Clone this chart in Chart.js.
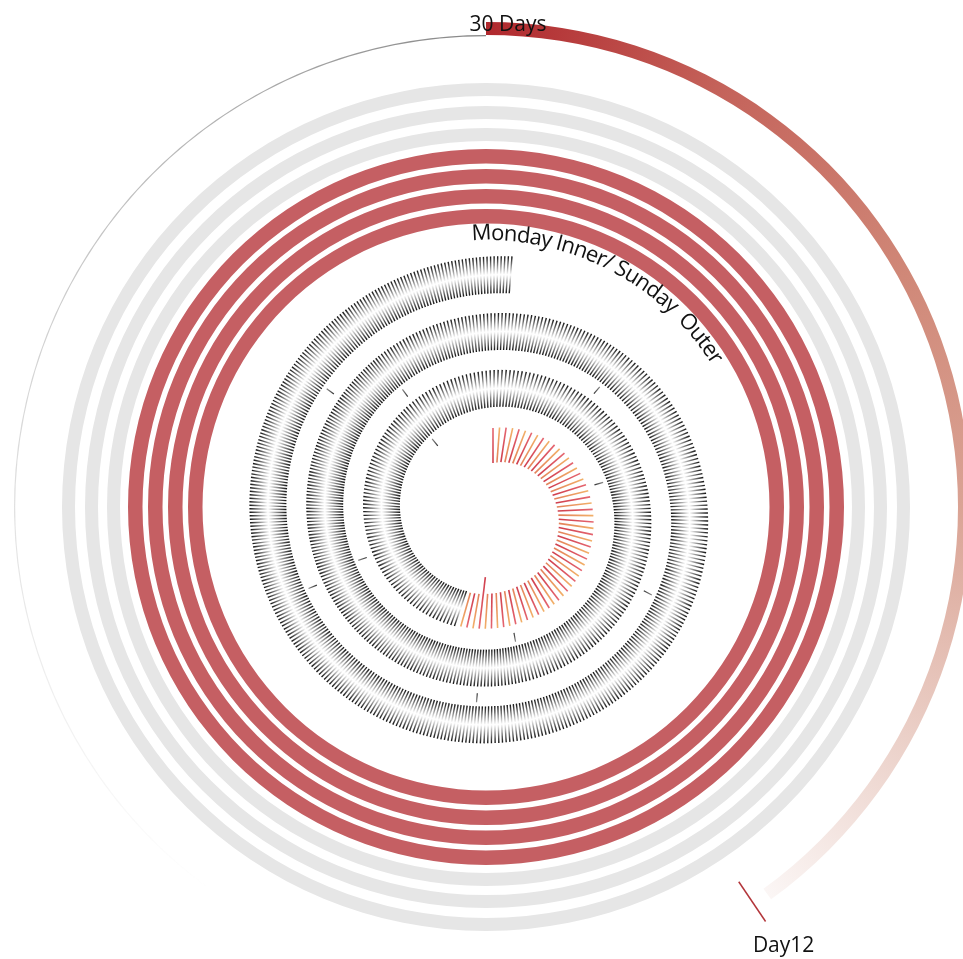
<!DOCTYPE html>
<html>
<head>
<meta charset="utf-8">
<script src="https://cdn.jsdelivr.net/npm/chart.js@4.4.0/dist/chart.umd.min.js"></script>
<style>
  html, body { margin: 0; padding: 0; background: #fff; }
  #wrap { position: relative; width: 963px; height: 959px; overflow: hidden; }
  #wrap canvas { position: absolute; left: 0; top: 0; }
</style>
</head>
<body>
<div id="wrap">
  <canvas id="rings" width="975" height="995"></canvas>
  <canvas id="spiral" width="975" height="995"></canvas>
</div>
<script>
// 30 day run, 12 days done
const daysTotal = 30;
const daysDone = 12;

// week rings, outer to inner: 0 = still to come, 1 = done
const weekRings = [0, 0, 0, 1, 1, 1, 1];

// spiral, innermost day first: where each day starts / ends (degrees along the spiral)
const dayBounds = [0, 199, 321, 434, 530, 611, 684, 760, 837, 905, 968, 1027, 1085];
// readings per day
const dayReadings = [56, 72, 72, 72, 72, 72, 72, 72, 72, 72, 72, 72];
// readings of the highlighted day
const todayValues = [
  35, 35, 35, 35, 35, 35, 35, 35, 35, 35,
  35, 35, 35, 35, 35, 35, 35, 35, 35, 35,
  35, 35, 35, 35, 35, 35, 35, 35, 35, 35,
  35, 35, 35, 35, 35, 35, 35, 35, 35, 35,
  35, 35, 35, 35, 35, 35, 35, 35, 35, 35,
  35, 35, 52, 35, 35, 35
];
// every reading on the other days has the same size
const otherDayValue = 37;

const FONT = '"Open Sans", "Noto Sans", sans-serif';
const rad = d => d * Math.PI / 180;

// ---------- rings chart ----------
const RING_W = 975, RING_H = 995;
const ringCx = 486, ringCy = 507, ringR = 485, ringCut = 283.5;

function progressFill(chart) {
  const a = chart.chartArea;
  if (!a) return '#b02a2e';
  const g = chart.ctx.createConicGradient(-Math.PI / 2, (a.left + a.right) / 2, (a.top + a.bottom) / 2);
  g.addColorStop(0, '#b0282d');
  g.addColorStop(0.08, '#c4625a');
  g.addColorStop(0.17, '#d08878');
  g.addColorStop(0.25, '#daa394');
  g.addColorStop(0.33, '#ebd0c8');
  g.addColorStop(0.4, '#fbf6f5');
  g.addColorStop(1, '#fbf6f5');
  return g;
}
function trackFill(chart) {
  const a = chart.chartArea;
  if (!a) return '#999';
  const g = chart.ctx.createConicGradient(-Math.PI / 2, (a.left + a.right) / 2, (a.top + a.bottom) / 2);
  g.addColorStop(0, 'rgba(120,120,120,0.9)');
  g.addColorStop(0.4, 'rgba(160,160,160,0)');
  g.addColorStop(0.6, 'rgba(160,160,160,0)');
  g.addColorStop(0.7, 'rgba(150,150,150,0.18)');
  g.addColorStop(0.8, 'rgba(140,140,140,0.38)');
  g.addColorStop(0.9, 'rgba(130,130,130,0.6)');
  g.addColorStop(1, 'rgba(120,120,120,0.9)');
  return g;
}

const clear = 'rgba(0,0,0,0)';
const ringBase = { borderWidth: 0, hoverBorderWidth: 0, hoverOffset: 0, offset: 0 };
const ringSets = [
  { ...ringBase, data: [daysDone, daysTotal - daysDone], weight: 13,
    backgroundColor: c => c.dataIndex === 0 ? progressFill(c.chart) : clear },
  { ...ringBase, data: [daysDone, daysTotal - daysDone], weight: 1.2,
    backgroundColor: c => c.dataIndex === 1 ? trackFill(c.chart) : clear }
];
const ringGaps = [46.8, 10, 9, 8, 5.5, 5.5, 5.5];
weekRings.forEach((done, i) => {
  ringSets.push({ ...ringBase, data: [1], weight: ringGaps[i], backgroundColor: clear });
  ringSets.push({ ...ringBase, data: [1], weight: done ? 14.5 : 13,
    backgroundColor: done ? '#c55f63' : '#e6e6e6' });
});

function curvedText(ctx, text, cx, cy, r, startDeg, spanDeg) {
  ctx.save();
  ctx.font = '22px ' + FONT;
  ctx.fillStyle = '#111';
  ctx.textBaseline = 'alphabetic';
  ctx.textAlign = 'left';
  const chars = [...text];
  const natural = chars.reduce((s, ch) => s + ctx.measureText(ch).width, 0);
  const extra = (rad(spanDeg) * r - natural) / (chars.length - 1);
  let ang = rad(startDeg);
  chars.forEach(ch => {
    ctx.save();
    ctx.translate(cx + r * Math.sin(ang), cy - r * Math.cos(ang));
    ctx.rotate(ang);
    ctx.fillText(ch, 0, 0);
    ctx.restore();
    ang += (ctx.measureText(ch).width + extra) / r;
  });
  ctx.restore();
}

const ringLabels = {
  id: 'ringLabels',
  afterDatasetsDraw(chart) {
    const ctx = chart.ctx;
    const arc = chart.getDatasetMeta(0).data[0];
    const cx = arc.x, cy = arc.y;
    ctx.save();
    ctx.fillStyle = '#111';
    ctx.font = '21px ' + FONT;
    ctx.textAlign = 'center';
    ctx.textBaseline = 'alphabetic';
    ctx.fillText(daysTotal + ' Days', cx + 22, cy - 476);

    // day marker at the end of the progress arc
    const a = arc.endAngle + rad(2);
    const x0 = cx + Math.cos(a) * 452, y0 = cy + Math.sin(a) * 452;
    const x1 = cx + Math.cos(a) * 500, y1 = cy + Math.sin(a) * 500;
    ctx.strokeStyle = '#b3363b';
    ctx.lineWidth = 1.5;
    ctx.beginPath();
    ctx.moveTo(x0, y0);
    ctx.lineTo(x1, y1);
    ctx.stroke();
    ctx.fillText('Day' + daysDone, x1 + 18, y1 + 30);
    ctx.restore();

    curvedText(ctx, 'Monday Inner/ Sunday  Outer', cx, cy, 267, -3, 61);
  }
};

new Chart(document.getElementById('rings'), {
  type: 'doughnut',
  data: { labels: ['done', 'left'], datasets: ringSets },
  options: {
    responsive: false,
    animation: false,
    events: [],
    cutout: ringCut,
    layout: { padding: { left: ringCx - ringR, top: ringCy - ringR,
      right: RING_W - ringCx - ringR, bottom: RING_H - ringCy - ringR } },
    plugins: { legend: { display: false }, tooltip: { enabled: false } }
  },
  plugins: [ringLabels]
});

// ---------- spiral chart ----------
const spCx = 493, spCy = 514;   // spiral centre on the canvas
const spA = 68.5, spB = 0.158;  // radius at start, growth per degree

const radiusAt = d => spA + spB * d;
const arcAt = d => rad(spA * d + spB * d * d / 2);
const degAt = s => (-spA + Math.sqrt(spA * spA + 2 * spB * s * 180 / Math.PI)) / spB;

function tick(deg, outer, len, k) {
  const t = rad(deg), s = Math.sin(t), c = Math.cos(t);
  const mid = outer - len / 2, inner = outer - len;
  return { x: mid * s, y: mid * c, len, rot: deg - 90, k,
    ix: inner * s, iy: inner * c, ox: outer * s, oy: outer * c };
}

const todayPts = [], otherPts = [], markPts = [];
dayReadings.forEach((n, d) => {
  const s0 = arcAt(dayBounds[d]), s1 = arcAt(dayBounds[d + 1]);
  for (let i = 0; i < n; i++) {
    const deg = degAt(s0 + i * (s1 - s0) / n);
    if (d === 0) {
      todayPts.push(tick(deg, radiusAt(deg) + 17.5, todayValues[i], i % 2));
    } else {
      otherPts.push(tick(deg, radiusAt(deg) + otherDayValue / 2, otherDayValue, 0));
    }
  }
  if (d >= 2) {
    const deg = dayBounds[d];
    markPts.push(tick(deg, radiusAt(deg) - 22.5, 9, 0));
  }
});

function tickStroke(c, stops) {
  const p = c.raw;
  const sc = c.chart.scales;
  if (!p || !sc || !sc.x || !sc.y) return stops[0][1];
  const x0 = sc.x.getPixelForValue(p.ix), y0 = sc.y.getPixelForValue(p.iy);
  const x1 = sc.x.getPixelForValue(p.ox), y1 = sc.y.getPixelForValue(p.oy);
  if (![x0, y0, x1, y1].every(Number.isFinite)) return stops[0][1];
  const g = c.chart.ctx.createLinearGradient(x0, y0, x1, y1);
  stops.forEach(([o, col]) => g.addColorStop(o, col));
  return g;
}

const redStops = [[0, '#cf3e4c'], [1, '#e56670']];
const orangeStops = [[0, '#e3805a'], [1, '#f2b068']];

const tickBase = {
  pointStyle: 'line',
  pointRadius: c => c.raw ? c.raw.len / 2 : 0,
  pointRotation: c => c.raw ? c.raw.rot : 0,
  pointHoverRadius: c => c.raw ? c.raw.len / 2 : 0,
  pointBorderWidth: 1.4,
  showLine: false
};

new Chart(document.getElementById('spiral'), {
  type: 'scatter',
  data: {
    datasets: [
      { ...tickBase, label: 'today', data: todayPts, pointBorderWidth: 1.6,
        pointBorderColor: c => tickStroke(c, c.raw && c.raw.k ? orangeStops : redStops) },
      { ...tickBase, label: 'week', data: otherPts,
        pointBorderColor: c => tickStroke(c, [[0, '#111'], [0.5, '#fff'], [1, '#111']]) },
      { ...tickBase, label: 'days', data: markPts, pointBorderWidth: 1.2,
        pointBorderColor: c => tickStroke(c, [[0, '#333'], [1, '#888']]) }
    ]
  },
  options: {
    responsive: false,
    animation: false,
    events: [],
    layout: { padding: 0, autoPadding: false },
    scales: {
      x: { type: 'linear', display: false, min: -spCx, max: RING_W - spCx },
      y: { type: 'linear', display: false, min: -(RING_H - spCy), max: spCy }
    },
    plugins: { legend: { display: false }, tooltip: { enabled: false } }
  }
});
</script>
</body>
</html>
